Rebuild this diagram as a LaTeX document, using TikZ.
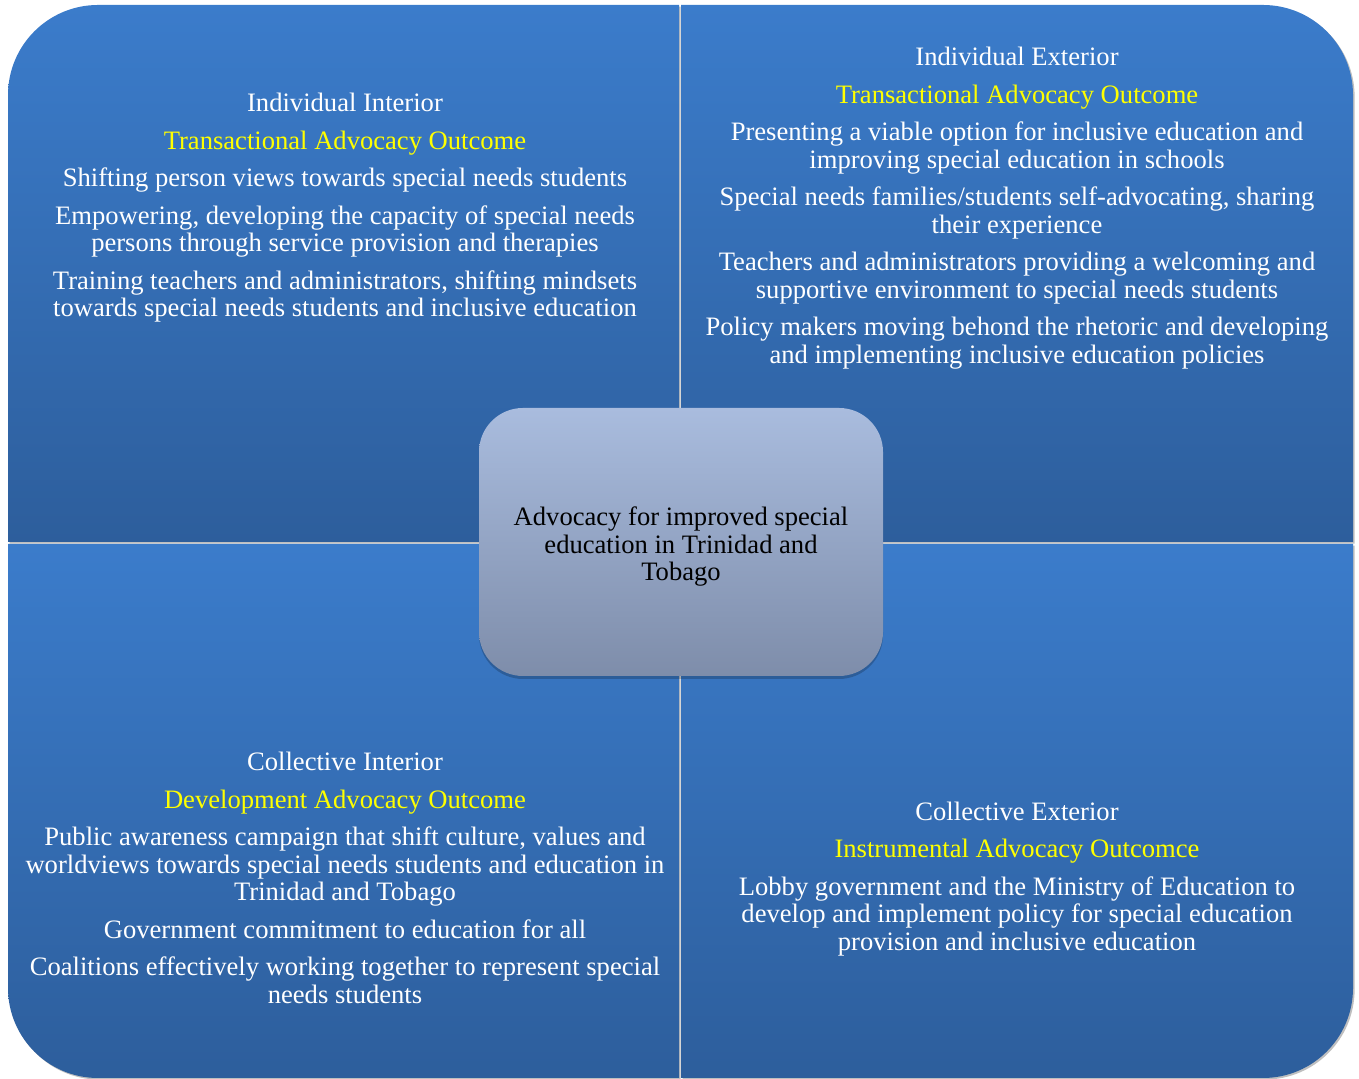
\documentclass[tikz,border=0pt]{standalone}
\usepackage{fontspec}
\setmainfont{Liberation Serif}
\usepackage{tikz}
\usetikzlibrary{shapes,positioning,shadows}
\usepackage{xcolor}
\definecolor{quadtop}{RGB}{59,124,203}
\definecolor{quadbottom}{RGB}{45,94,156}
\definecolor{coretop}{RGB}{169,188,222}
\definecolor{corebottom}{RGB}{126,141,170}
\definecolor{outcome}{RGB}{255,255,0}
\tikzstyle{quadrant} = [top color=quadtop, bottom color=quadbottom, drop shadow={shadow xshift=0.8pt, shadow yshift=-0.8pt, opacity=0.25, fill=black}]
\tikzstyle{quadtext} = [align=center, text=white, font=\fontsize{13.3}{13.75}\selectfont]
\tikzstyle{core} = [rectangle, rounded corners=22pt, minimum width=202pt, minimum height=134pt, align=center, top color=coretop, bottom color=corebottom, font=\fontsize{13.3}{13.75}\selectfont, drop shadow={shadow xshift=0pt, shadow yshift=-1.5pt, opacity=0.2, fill=black}]

\begin{document}
\begin{tikzpicture}[x=0.5pt, y=0.5pt]
    \useasboundingbox (0,0) rectangle (1359,1079);
    % Quadrants
    \path[quadrant] (679,537) -- (8,537) -- (8,984) arc[start angle=180, end angle=90, radius=90] -- (679,1074) -- cycle;
    \path[quadrant] (681,537) -- (681,1074) -- (1263,1074) arc[start angle=90, end angle=0, radius=90] -- (1353,537) -- cycle;
    \path[quadrant] (679,535) -- (679,1) -- (98,1) arc[start angle=270, end angle=180, radius=90] -- (8,535) -- cycle;
    \path[quadrant] (681,535) -- (1353,535) -- (1353,91) arc[start angle=0, end angle=-90, radius=90] -- (681,1) -- cycle;

    % Nodes
    \node[quadtext] (indint) at (345,871) {Individual Interior\\[5pt]
        \textcolor{outcome}{Transactional Advocacy Outcome}\\[5pt]
        Shifting person views towards special needs students\\[5pt]
        Empowering, developing the capacity of special needs\\
        persons through service provision and therapies\\[5pt]
        Training teachers and administrators, shifting mindsets\\
        towards special needs students and inclusive education};
    \node[quadtext] (indext) at (1017,871) {Individual Exterior\\[5pt]
        \textcolor{outcome}{Transactional Advocacy Outcome}\\[5pt]
        Presenting a viable option for inclusive education and\\
        improving special education in schools\\[5pt]
        Special needs families/students self-advocating, sharing\\
        their experience\\[5pt]
        Teachers and administrators providing a welcoming and\\
        supportive environment to special needs students\\[5pt]
        Policy makers moving behond the rhetoric and developing\\
        and implementing inclusive education policies};
    \node[quadtext] (colint) at (345,201) {Collective Interior\\[5pt]
        \textcolor{outcome}{Development Advocacy Outcome}\\[5pt]
        Public awareness campaign that shift culture, values and\\
        worldviews towards special needs students and education in\\
        Trinidad and Tobago\\[5pt]
        Government commitment to education for all\\[5pt]
        Coalitions effectively working together to represent special\\
        needs students};
    \node[quadtext] (colext) at (1017,200) {Collective Exterior\\[5pt]
        \textcolor{outcome}{Instrumental Advocacy Outcomce}\\[5pt]
        Lobby government and the Ministry of Education to\\
        develop and implement policy for special education\\
        provision and inclusive education};
    \node[core] (advocacy) at (681,537) {\rule{0pt}{14pt}Advocacy for improved special\\
        education in Trinidad and\\
        Tobago};
\end{tikzpicture}
\end{document}
